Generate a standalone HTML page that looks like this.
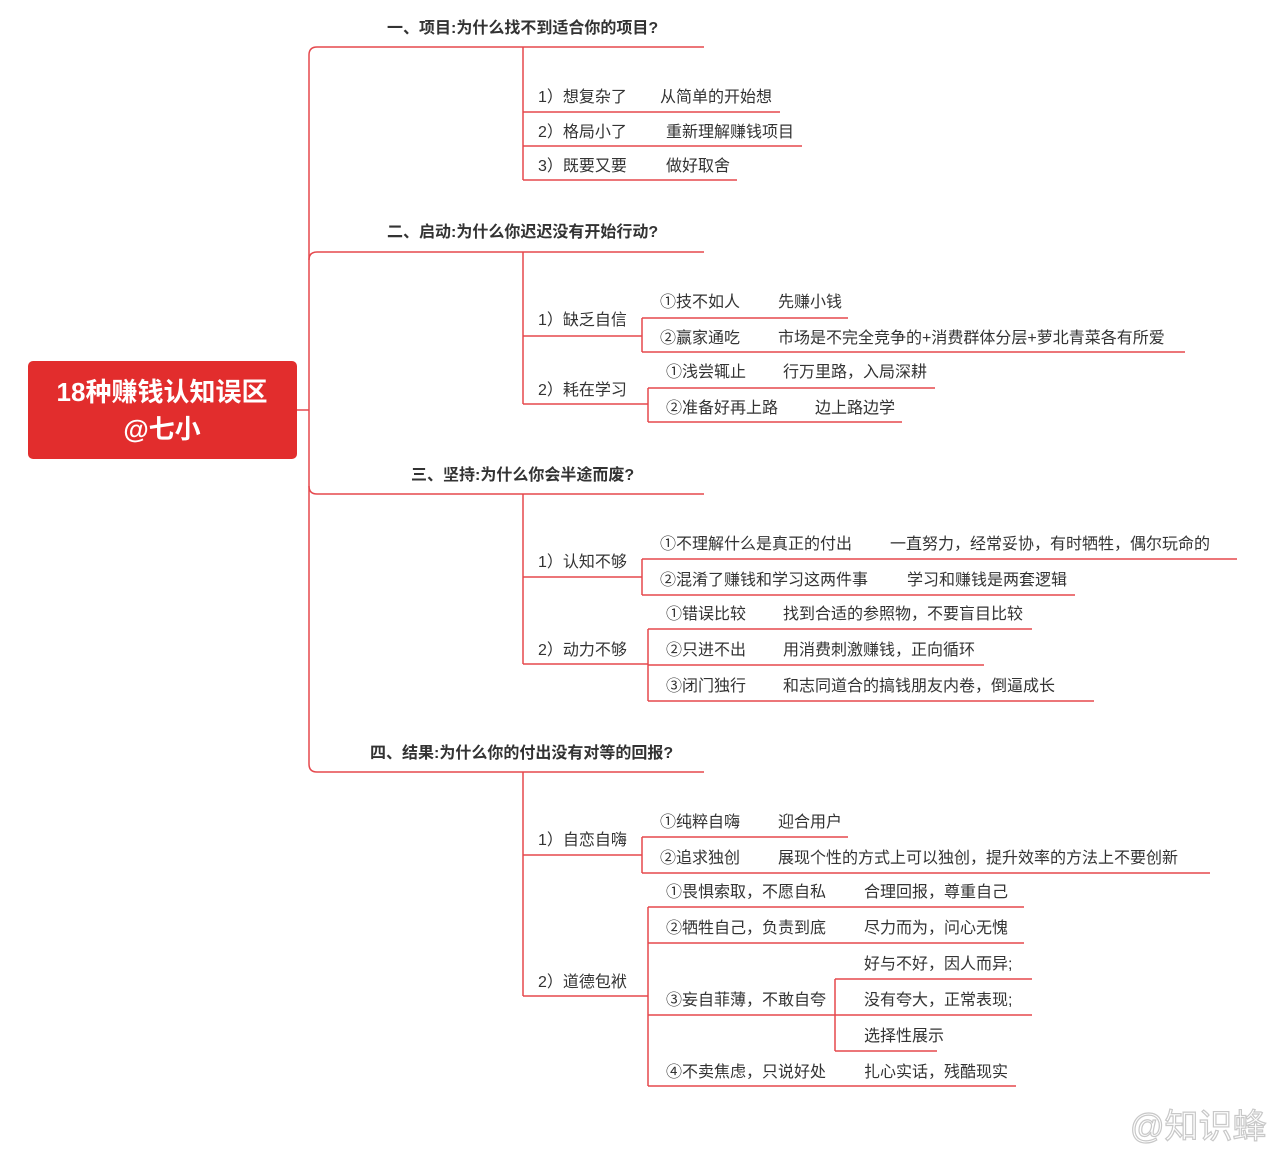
<!DOCTYPE html>
<html><head><meta charset="utf-8"><style>
html,body{margin:0;padding:0;background:#fff;}
svg{display:block;}
text{font-family:"Liberation Sans","Noto Sans CJK SC",sans-serif;font-size:16px;fill:#333;}
.b{font-weight:bold;}
</style></head><body>
<svg width="1288" height="1165" viewBox="0 0 1288 1165" xmlns="http://www.w3.org/2000/svg">
<g stroke="#e5484d" stroke-width="1.5" fill="none">
<path d="M297 410 H309"/>
<path d="M704 47 H317 Q309 47 309 55 V764 Q309 772 317 772 H704"/>
<path d="M309 260 Q309 252 317 252 H704"/>
<path d="M309 486 Q309 494 317 494 H704"/>
<path d="M523 47 V180"/>
<path d="M523 112 H780 M523 146 H802 M523 180 H737"/>
<path d="M523 252 V404"/>
<path d="M523 336 H642 M642 318 V352 M642 318 H848 M642 352 H1185"/>
<path d="M523 404 H648 M648 388 V422 M648 388 H935 M648 422 H902"/>
<path d="M523 494 V664"/>
<path d="M523 577 H642 M642 559 V595 M642 559 H1237 M642 595 H1075"/>
<path d="M523 664 H648 M648 629 V701 M648 629 H1032 M648 665 H984 M648 701 H1094"/>
<path d="M523 772 V996"/>
<path d="M523 855 H642 M642 837 V873 M642 837 H848 M642 873 H1210"/>
<path d="M523 996 H648 M648 907 V1086 M648 907 H1024 M648 943 H1024 M648 1015 H835 M835 979 V1051 M835 979 H1032 M835 1015 H1032 M835 1051 H937 M648 1086 H1016"/>
</g>
<rect x="28" y="361" width="269" height="98" rx="5" fill="#e22d2d"/>
<text x="162" y="401" text-anchor="middle" class="b" style="font-size:26px;fill:#fff">18种赚钱认知误区</text>
<text x="162" y="438" text-anchor="middle" class="b" style="font-size:26px;fill:#fff">@七小</text>

<text x="387" y="33" class="b">一、项目:为什么找不到适合你的项目?</text>
<text x="538" y="102">1）想复杂了</text><text x="660" y="102">从简单的开始想</text>
<text x="538" y="137">2）格局小了</text><text x="666" y="137">重新理解赚钱项目</text>
<text x="538" y="171">3）既要又要</text><text x="666" y="171">做好取舍</text>

<text x="387" y="237" class="b">二、启动:为什么你迟迟没有开始行动?</text>
<text x="538" y="325">1）缺乏自信</text>
<text x="660" y="307">①技不如人</text><text x="778" y="307">先赚小钱</text>
<text x="660" y="343">②赢家通吃</text><text x="778" y="343">市场是不完全竞争的+消费群体分层+萝北青菜各有所爱</text>
<text x="538" y="395">2）耗在学习</text>
<text x="666" y="377">①浅尝辄止</text><text x="783" y="377">行万里路，入局深耕</text>
<text x="666" y="413">②准备好再上路</text><text x="815" y="413">边上路边学</text>

<text x="411" y="480" class="b">三、坚持:为什么你会半途而废?</text>
<text x="538" y="567">1）认知不够</text>
<text x="660" y="549">①不理解什么是真正的付出</text><text x="890" y="549">一直努力，经常妥协，有时牺牲，偶尔玩命的</text>
<text x="660" y="585">②混淆了赚钱和学习这两件事</text><text x="907" y="585">学习和赚钱是两套逻辑</text>
<text x="538" y="655">2）动力不够</text>
<text x="666" y="619">①错误比较</text><text x="783" y="619">找到合适的参照物，不要盲目比较</text>
<text x="666" y="655">②只进不出</text><text x="783" y="655">用消费刺激赚钱，正向循环</text>
<text x="666" y="691">③闭门独行</text><text x="783" y="691">和志同道合的搞钱朋友内卷，倒逼成长</text>

<text x="370" y="758" class="b">四、结果:为什么你的付出没有对等的回报?</text>
<text x="538" y="845">1）自恋自嗨</text>
<text x="660" y="827">①纯粹自嗨</text><text x="778" y="827">迎合用户</text>
<text x="660" y="863">②追求独创</text><text x="778" y="863">展现个性的方式上可以独创，提升效率的方法上不要创新</text>
<text x="538" y="987">2）道德包袱</text>
<text x="666" y="897">①畏惧索取，不愿自私</text><text x="864" y="897">合理回报，尊重自己</text>
<text x="666" y="933">②牺牲自己，负责到底</text><text x="864" y="933">尽力而为，问心无愧</text>
<text x="666" y="1005">③妄自菲薄，不敢自夸</text>
<text x="864" y="969">好与不好，因人而异;</text>
<text x="864" y="1005">没有夸大，正常表现;</text>
<text x="864" y="1041">选择性展示</text>
<text x="666" y="1077">④不卖焦虑，只说好处</text><text x="864" y="1077">扎心实话，残酷现实</text>

<text x="1130" y="1138" style="font-size:34px;fill:#fff;stroke:#c8c8c8;stroke-width:1.2">@知识蜂</text>
</svg>
</body></html>
